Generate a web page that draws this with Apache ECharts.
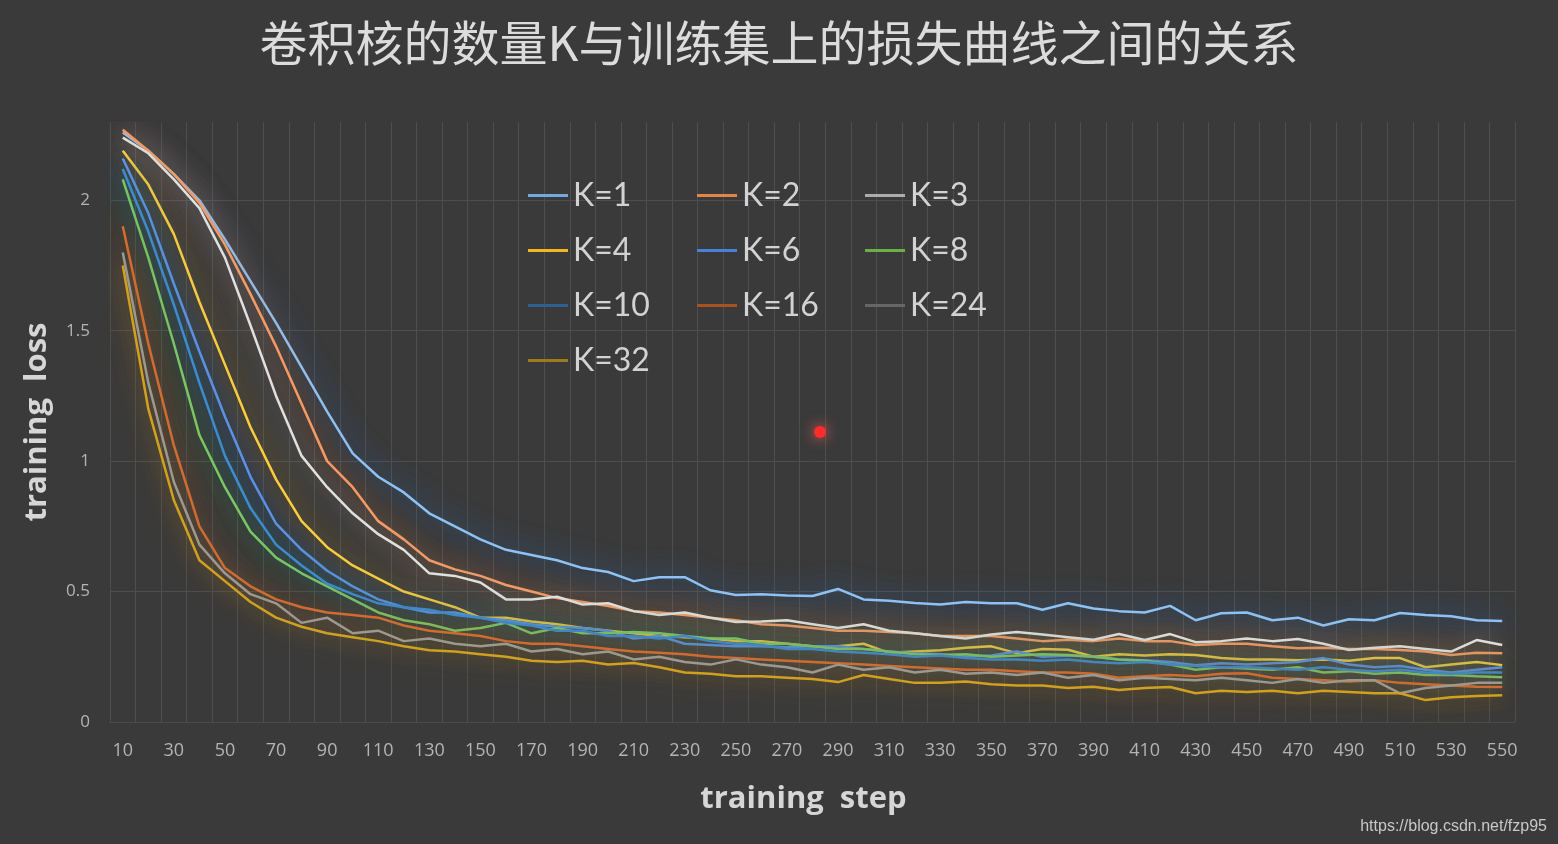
<!DOCTYPE html>
<html>
<head>
<meta charset="utf-8">
<script src="https://cdn.jsdelivr.net/npm/echarts@6/dist/echarts.min.js"></script>
<style>
html,body{margin:0;padding:0;background:#3a3a3a;}
#chart{width:1558px;height:844px;}
</style>
</head>
<body>
<div id="chart"></div>
<script>
const titleText = '卷积核的数量K与训练集上的损失曲线之间的关系';
const steps = ['10','20','30','40','50','60','70','80','90','100','110','120','130','140','150','160','170','180','190','200','210','220','230','240','250','260','270','280','290','300','310','320','330','340','350','360','370','380','390','400','410','420','430','440','450','460','470','480','490','500','510','520','530','540','550'];
const seriesNames = ['K=1','K=2','K=3','K=4','K=6','K=8','K=10','K=16','K=24','K=32'];

const k1 = [2.26,2.19,2.10,2.00,1.85,1.69,1.53,1.36,1.19,1.03,0.94,0.88,
  0.80,0.75,0.70,0.66,0.64,0.62,0.59,0.575,0.54,0.555,
  0.555,0.505,0.487,0.49,0.485,0.483,0.51,0.47,0.465,0.456,0.45,
  0.46,0.455,0.455,0.43,0.455,0.435,0.425,0.42,0.445,0.39,0.417,
  0.42,0.39,0.40,0.37,0.394,0.39,0.418,0.41,0.405,0.39,0.387];
const k2 = [2.27,2.19,2.10,1.99,1.83,1.64,1.44,1.22,1.00,0.90,0.77,0.70,
  0.62,0.585,0.56,0.525,0.50,0.475,0.46,0.445,0.425,0.42,
  0.41,0.40,0.39,0.375,0.37,0.36,0.35,0.35,0.345,0.34,0.33,
  0.33,0.33,0.32,0.31,0.315,0.31,0.32,0.31,0.31,0.295,0.30,
  0.30,0.29,0.283,0.285,0.28,0.28,0.276,0.27,0.257,0.265,0.264];
const k3 = [2.24,2.18,2.08,1.97,1.78,1.52,1.25,1.02,0.90,0.80,0.72,0.66,
  0.57,0.56,0.535,0.47,0.47,0.48,0.45,0.455,0.425,0.41,
  0.42,0.40,0.383,0.385,0.39,0.375,0.36,0.375,0.35,0.34,0.33,
  0.32,0.335,0.345,0.335,0.325,0.315,0.337,0.314,0.337,0.306,0.31,
  0.32,0.31,0.318,0.30,0.276,0.285,0.29,0.28,0.27,0.314,0.295];
const k4 = [2.19,2.06,1.87,1.61,1.37,1.13,0.93,0.77,0.67,0.60,0.55,0.50,
  0.47,0.44,0.40,0.40,0.385,0.375,0.36,0.35,0.34,0.33,
  0.325,0.32,0.31,0.31,0.30,0.29,0.29,0.30,0.265,0.27,0.275,
  0.285,0.29,0.264,0.28,0.277,0.25,0.26,0.255,0.26,0.257,0.245,
  0.24,0.24,0.237,0.24,0.235,0.245,0.245,0.21,0.22,0.23,0.218];
const k6 = [2.16,1.95,1.68,1.42,1.17,0.94,0.76,0.66,0.58,0.52,0.47,0.44,
  0.42,0.42,0.40,0.39,0.375,0.365,0.36,0.35,0.32,0.33,
  0.30,0.295,0.29,0.29,0.287,0.29,0.29,0.28,0.27,0.264,0.26,
  0.25,0.255,0.27,0.25,0.255,0.25,0.24,0.237,0.23,0.218,0.225,
  0.22,0.225,0.23,0.245,0.22,0.21,0.215,0.20,0.19,0.20,0.21];
const k8 = [2.08,1.78,1.45,1.10,0.90,0.73,0.63,0.57,0.52,0.47,0.42,0.39,
  0.375,0.35,0.36,0.38,0.34,0.36,0.34,0.34,0.345,0.34,
  0.33,0.32,0.32,0.30,0.30,0.29,0.28,0.28,0.27,0.26,0.257,
  0.26,0.25,0.255,0.26,0.257,0.25,0.24,0.235,0.22,0.20,0.21,
  0.205,0.20,0.21,0.19,0.195,0.185,0.19,0.18,0.18,0.175,0.172];
const k10 = [2.12,1.88,1.60,1.30,1.02,0.82,0.68,0.60,0.53,0.49,0.455,0.44,
  0.43,0.41,0.40,0.38,0.37,0.35,0.35,0.33,0.33,0.32,
  0.33,0.31,0.30,0.295,0.28,0.28,0.27,0.265,0.26,0.25,0.255,
  0.245,0.24,0.24,0.235,0.24,0.23,0.225,0.23,0.22,0.215,0.21,
  0.21,0.205,0.20,0.21,0.20,0.195,0.20,0.19,0.185,0.19,0.19];
const k16 = [1.90,1.45,1.06,0.75,0.59,0.52,0.47,0.44,0.42,0.41,0.40,0.37,
  0.35,0.34,0.33,0.31,0.30,0.30,0.29,0.28,0.27,0.265,
  0.26,0.25,0.245,0.24,0.235,0.23,0.225,0.22,0.215,0.21,0.205,
  0.20,0.20,0.195,0.19,0.19,0.185,0.17,0.175,0.18,0.175,0.185,
  0.187,0.17,0.165,0.16,0.155,0.16,0.15,0.145,0.14,0.135,0.134];
const k24 = [1.80,1.30,0.92,0.68,0.57,0.49,0.455,0.38,0.40,0.34,0.35,0.31,
  0.32,0.30,0.29,0.30,0.27,0.28,0.26,0.27,0.24,0.25,
  0.23,0.22,0.24,0.22,0.21,0.19,0.22,0.20,0.21,0.19,0.20,
  0.185,0.19,0.18,0.19,0.17,0.18,0.16,0.17,0.165,0.16,0.17,
  0.16,0.15,0.165,0.15,0.16,0.16,0.11,0.13,0.14,0.15,0.15];
const k32 = [1.75,1.20,0.85,0.62,0.54,0.46,0.40,0.365,0.34,0.325,0.31,0.29,
  0.275,0.27,0.26,0.25,0.235,0.23,0.235,0.22,0.226,0.21,
  0.19,0.185,0.175,0.175,0.17,0.165,0.153,0.18,0.165,0.15,0.15,
  0.155,0.145,0.14,0.14,0.13,0.135,0.123,0.13,0.134,0.11,0.12,
  0.115,0.12,0.11,0.12,0.115,0.11,0.11,0.084,0.095,0.10,0.103];

const seriesData = [k1,k2,k3,k4,k6,k8,k10,k16,k24,k32];
const lineColors = ['#8ec2f4','#f59a62','#e0e0e0','#ffd03a','#6294e6','#80cc62','#3c8cce','#d86c30','#9a9a9a','#d0a020'];
const glowColors = ['#1f7cf0','#f06008','#b0b0b0','#f5b000','#205cdc','#40aa20','#0c66b4','#c04a00','#6a6a6a','#c08a00'];
const legendColors = ['#74a9dc','#e2844c','#acacac','#f2b822','#4a80d8','#6cae4a','#2d6090','#a9521f','#666666','#9c7c1a'];

const legendCols = [['K=1','K=4','K=10','K=32'],['K=2','K=6','K=16'],['K=3','K=8','K=24']];
const legendLefts = [523, 692, 860];

const chart = echarts.init(document.getElementById('chart'), null, {renderer:'canvas'});

const series = seriesNames.map((name, i) => ({
  name: name,
  type: 'line',
  data: seriesData[i],
  symbol: 'none',
  smooth: false,
  silent: true,
  color: legendColors[i],
  lineStyle: {width: 2.5, color: lineColors[i], shadowColor: glowColors[i], shadowBlur: 26},
  emphasis: {disabled: true}
}));

const legends = legendCols.map((items, c) => ({
  data: items,
  orient: 'vertical',
  left: legendLefts[c],
  top: 174,
  itemWidth: 40,
  itemHeight: 14,
  itemGap: 22,
  selectedMode: false,
  icon: 'path://M0,6 L40,6 L40,9 L0,9 Z',
  textStyle: {color: '#d2d2d2', fontSize: 32, fontFamily: 'Lato, "Open Sans", sans-serif', lineHeight: 33}
}));

chart.setOption({
  backgroundColor: '#3a3a3a',
  animation: false,
  title: {
    text: titleText,
    left: 'center',
    top: 14,
    textStyle: {color: '#dcdcdc', fontSize: 48, fontWeight: 'normal', fontFamily: '"Noto Sans CJK SC", sans-serif'}
  },
  legend: legends,
  grid: {left: 110, right: 43, top: 122, bottom: 122, containLabel: false},
  xAxis: {
    type: 'category',
    data: steps,
    boundaryGap: true,
    name: 'training  step',
    nameLocation: 'middle',
    nameGap: 62,
    nameTextStyle: {color: '#d6d6d6', fontSize: 31, fontWeight: 'bold', fontFamily: '"Open Sans", Lato, sans-serif', padding: [0, 18, 0, 0]},
    axisLine: {show: true, lineStyle: {color: '#4a4a4a'}},
    axisTick: {show: false},
    axisLabel: {interval: 1, color: '#b4b4b4', fontSize: 18, margin: 20, fontFamily: '"Open Sans", Lato, sans-serif'},
    splitLine: {show: true, interval: 0, lineStyle: {color: '#4e4e4e', width: 1}}
  },
  yAxis: {
    type: 'value',
    min: 0,
    max: 2.3,
    interval: 0.5,
    name: 'training  loss',
    nameLocation: 'middle',
    nameGap: 57,
    nameRotate: 90,
    nameTextStyle: {color: '#d6d6d6', fontSize: 31, fontWeight: 'bold', fontFamily: '"Open Sans", Lato, sans-serif'},
    axisLine: {show: false},
    axisTick: {show: false},
    axisLabel: {color: '#b4b4b4', fontSize: 17, margin: 20, showMaxLabel: false, fontFamily: '"Open Sans", Lato, sans-serif'},
    splitLine: {show: true, showMaxLine: false, lineStyle: {color: '#4e4e4e', width: 1}}
  },
  graphic: [
    {type: 'text', right: 11, bottom: 9, style: {text: 'https://blog.csdn.net/fzp95', fill: '#c8c8c8', fontSize: 16, fontFamily: '"Liberation Sans", Arial, sans-serif'}},
    {type: 'circle', shape: {cx: 820, cy: 432, r: 6}, style: {fill: '#ff2a2a', shadowColor: '#ff6060', shadowBlur: 14}, z: 100}
  ],
  series: series
});
</script>
</body>
</html>
